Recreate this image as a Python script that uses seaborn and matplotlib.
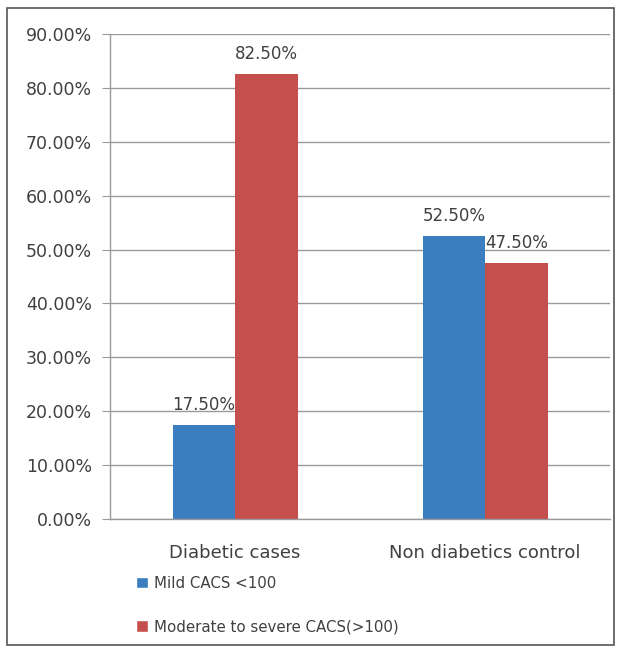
import matplotlib
matplotlib.use("Agg")
import matplotlib.pyplot as plt
from matplotlib.patches import Patch, Rectangle
from matplotlib.ticker import FixedLocator
import seaborn as sns
import pandas as pd

# Values
groups = ["Diabetic cases", "Non diabetics control"]
series = ["Mild CACS <100", "Moderate to severe CACS(>100)"]
mild = [17.5, 52.5]
moderate = [82.5, 47.5]
colors = ["#3B7EC0", "#C44F4D"]
yticks = [0, 10, 20, 30, 40, 50, 60, 70, 80, 90]

df = pd.DataFrame({
    "group": groups * 2,
    "series": [series[0]] * 2 + [series[1]] * 2,
    "value": mild + moderate,
})

sns.set_style("white")
plt.rcParams["font.family"] = ["DejaVu Sans"]
text_color = "#404040"
grid_color = "#9A9A9A"

fig = plt.figure(figsize=(6.24, 6.53), dpi=100)
ax = fig.add_axes([110 / 624, 1 - 519 / 653, 500 / 624, 485 / 653])

sns.barplot(data=df, x="group", y="value", hue="series", palette=colors,
            width=0.5, saturation=1, linewidth=0, ax=ax, legend=False)

for cont in ax.containers:
    ax.bar_label(cont, fmt="%.2f%%", padding=8, fontsize=12, color=text_color)

ax.set_ylim(0, 90)
ax.set_xlim(-0.5, 1.5)
ax.set_yticks(yticks)
ax.set_yticklabels([f"{v:.2f}%" for v in yticks])
ax.yaxis.grid(True, color=grid_color, linewidth=1)
ax.set_axisbelow(True)
ax.set_xlabel("")
ax.set_ylabel("")

ax.xaxis.set_minor_locator(FixedLocator([-0.5, 0.5, 1.5]))
ax.tick_params(axis="x", which="major", length=0, pad=18, labelsize=13, labelcolor=text_color)
ax.tick_params(axis="x", which="minor", length=6, color=grid_color, direction="out")
ax.tick_params(axis="y", length=6, color=grid_color, direction="out", left=True,
               pad=7, labelsize=12.5, labelcolor=text_color)

for side in ["top", "right"]:
    ax.spines[side].set_visible(False)
for side in ["left", "bottom"]:
    ax.spines[side].set_color(grid_color)
    ax.spines[side].set_linewidth(1)

handles = [Patch(facecolor=c, label=s) for c, s in zip(colors, series)]
fig.legend(handles=handles, loc="upper left", bbox_to_anchor=(122 / 624, 1 - 562 / 653),
           frameon=False, handlelength=0.8, handleheight=0.8, handletextpad=0.4,
           labelspacing=1.9, fontsize=10.8, labelcolor=text_color)

# outer border
fig.patches.append(Rectangle((7 / 624, 8 / 653), 607 / 624, 637 / 653,
                             transform=fig.transFigure, fill=False,
                             edgecolor="#555555", linewidth=1.2))

fig.savefig("out.png", dpi=100)
